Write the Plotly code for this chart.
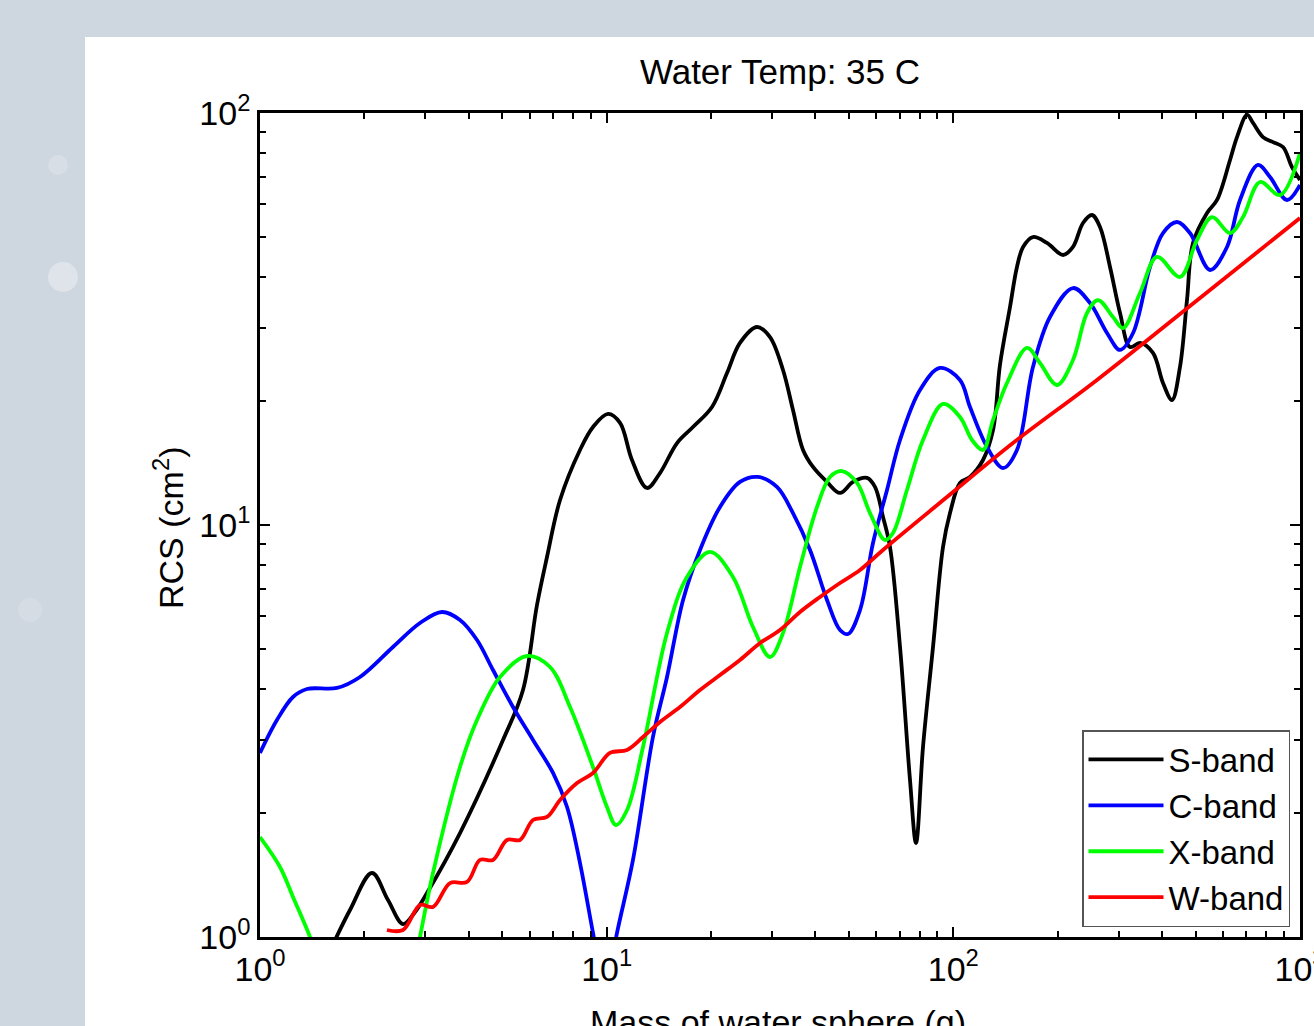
import plotly.graph_objects as go

# ---------------- data ----------------
s_mass = [1.571, 1.818, 2.104, 2.340, 2.585, 2.800, 3.032, 3.775, 5.023, 5.736,
          6.295, 6.728, 7.336, 8.377, 9.132, 10.09, 10.93, 11.83, 13.07, 14.25,
          15.96, 17.74, 20.13, 22.24, 24.24, 27.14, 29.59, 32.26, 34.47, 36.85,
          39.38, 43.21, 47.11, 51.36, 56.34, 59.43, 62.68, 65.66, 70.18, 74.99,
          78.04, 81.75, 87.37, 93.37, 97.81, 104.5, 111.7, 121.8, 130.2, 136.3,
          145.7, 152.6, 158.9, 169.7, 186.3, 207.2, 221.4, 236.6, 251.2, 264.9,
          283.1, 302.6, 323.3, 345.5, 376.6, 402.5, 427.3, 450.6, 472.1, 491.3,
          539.3, 576.3, 628.3, 658.1, 703.4, 731.9, 782.0, 835.8, 893.3, 948.2, 1000]
s_rcs = [0.904, 1.163, 1.430, 1.230, 1.075, 1.150, 1.279, 1.788, 3.007, 3.977,
         6.394, 8.361, 11.50, 15.21, 17.29, 18.60, 17.69, 14.38, 12.30, 13.37,
         15.81, 17.29, 19.34, 23.38, 27.66, 30.24, 28.59, 23.78, 19.02, 15.21,
         13.83, 12.72, 11.96, 12.72, 13.01, 12.37, 10.46, 8.844, 5.057, 2.405,
         1.691, 2.892, 5.057, 8.844, 10.69, 12.65, 13.08, 14.38, 17.01, 24.45,
         33.81, 42.29, 47.30, 50.0, 48.37, 45.22, 47.30, 54.08, 56.55, 52.89,
         42.29, 32.70, 27.04, 27.66, 26.16, 22.12, 20.11, 24.18, 35.16, 48.37,
         57.2, 61.5, 76.9, 87.4, 98.9, 94.6, 87.4, 85.0, 82.7, 73.9, 68.8]

c_mass = [1.0, 1.119, 1.245, 1.366, 1.668, 1.943, 2.419, 2.894, 3.350, 3.775,
          4.227, 4.700, 5.368, 6.131, 7.003, 7.686, 8.377, 9.132, 9.890, 10.71,
          11.91, 13.60, 14.93, 16.61, 18.59, 21.23, 24.24, 27.33, 30.99, 34.47,
          38.60, 43.21, 47.11, 49.68, 53.81, 58.65, 64.37, 70.18, 80.13, 91.52,
          104.5, 111.7, 125.1, 139.1, 152.6, 169.7, 190.0, 221.4, 247.9, 277.5,
          302.6, 329.9, 369.3, 402.5, 441.8, 481.6, 550.1, 615.8, 671.4, 756.6,
          819.4, 917.3, 1000]
c_rcs = [2.797, 3.362, 3.824, 3.999, 4.022, 4.276, 5.057, 5.783, 6.150, 5.881,
         5.258, 4.447, 3.616, 3.007, 2.501, 2.068, 1.512, 1.023, 0.723, 1.023,
         1.538, 3.058, 4.276, 6.577, 8.698, 11.06, 12.72, 13.08, 12.37, 10.69,
         8.698, 6.577, 5.562, 5.439, 6.219, 9.045, 12.16, 16.08, 21.27, 24.05,
         22.49, 19.34, 15.46, 13.75, 15.21, 24.18, 31.98, 37.60, 34.57, 29.24,
         26.60, 29.24, 42.29, 51.13, 54.38, 51.13, 41.59, 47.30, 61.5, 74.8,
         69.9, 61.5, 66.9]

x_mass = [1.0, 1.142, 1.245, 1.394, 1.470, 2.076, 2.800, 2.894, 3.155, 3.775,
          4.227, 4.924, 5.891, 6.864, 7.840, 9.132, 10.02, 10.64, 11.45, 12.73,
          14.93, 17.05, 19.87, 23.14, 26.43, 29.59, 32.26, 36.12, 40.44, 44.09,
          47.73, 52.75, 57.50, 63.52, 66.97, 73.50, 81.75, 93.37, 104.5, 113.2,
          121.8, 130.2, 142.8, 163.2, 177.8, 199.1, 221.4, 243.0, 261.4, 288.8,
          308.7, 345.5, 386.8, 450.6, 504.5, 557.4, 628.3, 684.9, 766.8, 875.6, 1000]
x_rcs = [1.748, 1.479, 1.251, 1.0, 0.880, 0.304, 0.869, 1.0, 1.430, 2.586,
         3.362, 4.276, 4.809, 4.522, 3.616, 2.586, 2.068, 1.870, 2.033, 2.892,
         5.469, 7.477, 8.602, 7.477, 5.656, 4.782, 5.469, 7.909, 11.06, 13.08,
         13.52, 12.65, 10.69, 9.197, 9.563, 12.16, 16.08, 19.67, 18.29, 16.08,
         15.21, 17.99, 22.12, 26.90, 24.73, 21.87, 25.15, 32.70, 35.16, 31.98,
         30.07, 36.57, 44.73, 40.0, 49.18, 55.9, 51.13, 55.9, 68.0, 63.2, 80.0]

w_mass = [2.324, 2.585, 2.894, 3.155, 3.533, 3.955, 4.311, 4.700, 5.159, 5.623,
          6.131, 6.728, 7.336, 8.213, 9.132, 10.22, 11.45, 12.73, 14.25, 16.27,
          18.59, 21.23, 24.24, 27.70, 31.62, 36.12, 41.25, 47.11, 53.81, 62.68,
          95.87, 148.6, 259.7, 514.7, 1000]
w_rcs = [1.040, 1.040, 1.196, 1.183, 1.352, 1.360, 1.538, 1.538, 1.720, 1.720,
         1.923, 1.956, 2.150, 2.364, 2.501, 2.797, 2.844, 3.058, 3.325, 3.616,
         3.977, 4.324, 4.703, 5.171, 5.562, 6.150, 6.688, 7.231, 7.777, 8.698,
         11.69, 15.81, 22.49, 35.56, 55.6]

series_names = ["S-band", "C-band", "X-band", "W-band"]
series_colors = ["#000000", "#0000ff", "#00ff00", "#ff0000"]

x_tickvals = [1, 10, 100, 1000]
x_ticktext = ["10<sup>0</sup>", "10<sup>1</sup>", "10<sup>2</sup>", "10<sup>3</sup>"]
y_tickvals = [1, 10, 100]
y_ticktext = ["10<sup>0</sup>", "10<sup>1</sup>", "10<sup>2</sup>"]
x_minor = [k * d for d in (1, 10, 100) for k in range(2, 10)]
y_minor = [k * d for d in (1, 10) for k in range(2, 10)]

title_text = "Water Temp: 35 C"
x_title = "Mass of water sphere (g)"
y_title = "RCS (cm<sup>2</sup>)"

# ---------------- figure ----------------
FONT = "Liberation Sans, Arial, Helvetica, sans-serif"
W, H = 1314, 1026
L, R, T, B = 260, 14, 113, 89
PW, PH = W - L - R, H - T - B


def px_to_paper(px, py):
    return (px - L) / PW, (H - B - py) / PH


fig = go.Figure()
data = [(s_mass, s_rcs), (c_mass, c_rcs), (x_mass, x_rcs), (w_mass, w_rcs)]
for (m, r), name, col in zip(data, series_names, series_colors):
    fig.add_trace(go.Scatter(
        x=m, y=r, mode="lines", name=name,
        line=dict(color=col, width=3.8, shape="spline", smoothing=1.0),
    ))

axis_common = dict(
    type="log", showgrid=False, zeroline=False,
    showline=True, linecolor="black", linewidth=2.5, mirror="ticks",
    ticks="inside", ticklen=10, tickwidth=2, tickcolor="black",
    tickfont=dict(family=FONT, size=34, color="black"),
    ticklabeloverflow="allow",
)
fig.update_xaxes(range=[0, 3], tickmode="array", tickvals=x_tickvals, ticktext=x_ticktext,
                 minor=dict(tickmode="array", tickvals=x_minor, ticks="inside", ticklen=6,
                            tickwidth=2, tickcolor="black", showgrid=False),
                 **axis_common)
fig.update_yaxes(range=[0, 2], tickmode="array", tickvals=y_tickvals, ticktext=y_ticktext,
                 minor=dict(tickmode="array", tickvals=y_minor, ticks="inside", ticklen=6,
                            tickwidth=2, tickcolor="black", showgrid=False),
                 **axis_common)

# white panel over the grey backdrop
x0, y1 = px_to_paper(85, 37)
shapes = [dict(type="rect", xref="paper", yref="paper", x0=x0, x1=1.2, y0=-0.3, y1=y1,
               fillcolor="white", line=dict(width=0), layer="below")]
for cx, cy, rad, op in [(63, 277, 15, 0.35), (58, 165, 10, 0.2), (30, 610, 12, 0.15)]:
    a0, b0 = px_to_paper(cx - rad, cy + rad)
    a1, b1 = px_to_paper(cx + rad, cy - rad)
    shapes.append(dict(type="circle", xref="paper", yref="paper", x0=a0, x1=a1, y0=b0, y1=b1,
                       fillcolor=f"rgba(255,255,255,{op})", line=dict(width=0), layer="below"))

ax, ay = px_to_paper(168, 528)
bx, by = px_to_paper(778, 1001)
annotations = [
    dict(text=y_title, xref="paper", yref="paper", x=ax, y=ay, textangle=-90,
         showarrow=False, xanchor="center", yanchor="middle",
         font=dict(family=FONT, size=34, color="black")),
    dict(text=x_title, xref="paper", yref="paper", x=bx, y=by,
         showarrow=False, xanchor="center", yanchor="top",
         font=dict(family=FONT, size=34, color="black")),
]

lx, ly = px_to_paper(1290, 927)
fig.update_layout(
    width=W, height=H,
    margin=dict(l=L, r=R, t=T, b=B, autoexpand=False),
    paper_bgcolor="#ced6df", plot_bgcolor="white",
    font=dict(family=FONT, size=34, color="black"),
    title=dict(text=title_text, x=0.5 * (L + W - R) / W, xanchor="center",
               y=1 - 72 / H, yanchor="middle", yref="container",
               font=dict(family=FONT, size=35, color="black")),
    showlegend=True,
    legend=dict(x=lx, y=ly, xanchor="right", yanchor="bottom",
                bgcolor="white", bordercolor="#555555", borderwidth=1.5,
                font=dict(family=FONT, size=33, color="black"),
                itemwidth=75, tracegroupgap=0),
    shapes=shapes, annotations=annotations,
)

fig.write_html("out.html", config={"displayModeBar": False},
               post_script="document.body.style.margin='0';document.body.style.overflow='hidden';")
